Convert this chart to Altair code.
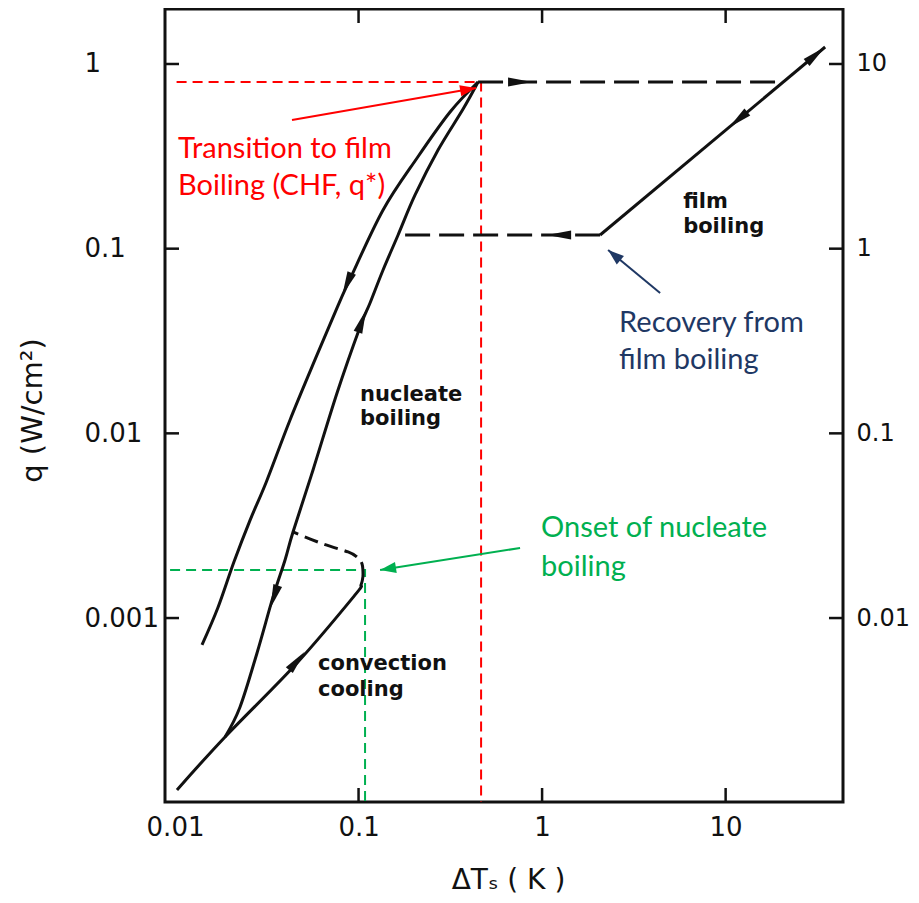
import altair as alt
import pandas as pd

# ---------------- axes ----------------
x_domain = [0.00882, 43.6]
q_domain = [1.009e-4, 1.985]
x_label_values = [0.01, 0.1, 1, 10]
x_tick_values = [0.1, 1, 10]
q_tick_values = [1, 0.1, 0.01, 0.001]
q_right_labels = ["10", "1", "0.1", "0.01"]

# ---------------- boiling curve (black) ----------------
outer_x = [0.01403, 0.01712, 0.02096, 0.02565, 0.03143, 0.04233, 0.05939, 0.07634, 0.08989, 0.1360, 0.2084,
           0.3152, 0.4478]
outer_q = [0.0007153, 0.001136, 0.002016, 0.003391, 0.005456, 0.01182, 0.02658, 0.04775, 0.06854, 0.1620,
           0.3098, 0.5496, 0.7989]

inner_x = [0.01873, 0.02261, 0.02798, 0.03421, 0.03977, 0.04395, 0.05649, 0.07634, 0.1019, 0.1155, 0.1360,
           0.1642, 0.2032, 0.2711, 0.3712, 0.4478]
inner_q = [0.0002271, 0.0003301, 0.0006471, 0.001301, 0.002063, 0.002925, 0.006336, 0.01655, 0.03768, 0.05082,
           0.07668, 0.1186, 0.1953, 0.3422, 0.5705, 0.7989]

conv_x = [0.01025, 0.01873, 0.04622, 0.09570, 0.1032, 0.1058]
conv_q = [0.0001173, 0.0002271, 0.0005713, 0.001334, 0.001511, 0.001690]

bump_x = [0.1058, 0.1045, 0.09813, 0.08767, 0.06404, 0.04395]
bump_q = [0.001690, 0.001963, 0.002142, 0.002280, 0.002518, 0.002925]

film_x = [2.071, 34.85]
film_q = [0.1186, 1.236]

chf_jump_x = [0.4478, 20.58]
chf_jump_q = [0.7989, 0.7989]

recovery_x = [2.071, 0.1642]
recovery_q = [0.1186, 0.1186]

arrow_x = [0.7586, 1.238, 31.0, 11.7, 0.08655, 0.1045, 0.03463, 0.04622]
arrow_q = [0.7989, 0.1186, 1.122, 0.4995, 0.0644, 0.04061, 0.001301, 0.0005857]
arrow_angle = [0, 180, 320, 140, 113, 290, 108, 310]

curve_labels = ["film", "boiling", "nucleate", "boiling", "convection", "cooling"]
curve_label_x = [5.868, 5.868, 0.1019, 0.1019, 0.06015, 0.06015]
curve_label_q = [0.1661, 0.1216, 0.01498, 0.01110, 0.0005236, 0.0003787]

# ---------------- annotations ----------------
chf_guide_x = [0.0102, 0.4652, 0.4652]
chf_guide_q = [0.7989, 0.7989, 1.009e-4]
onb_guide_x = [0.0094, 0.1085, 0.1085]
onb_guide_q = [0.001821, 0.001821, 1.009e-4]

chf_note_x = [0.0434, 0.4368]
chf_note_q = [0.4973, 0.7415]
onb_note_x = [0.7586, 0.1310]
onb_note_q = [0.002395, 0.001821]
rec_note_x = [4.396, 2.289]
rec_note_q = [0.05756, 0.0984]
note_key = ["chf", "onb", "rec"]
note_angle = [350, 171, 220]

chf_text = ["Transition to film", "Boiling (CHF, q*)"]
chf_text_x = [0.01038, 0.01038]
chf_text_q = [0.3098, 0.1953]
onb_text = ["Onset of nucleate", "boiling"]
onb_text_x = [0.9876, 0.9876]
onb_text_q = [0.002749, 0.001690]
rec_text = ["Recovery from", "film boiling"]
rec_text_x = [2.628, 2.628]
rec_text_q = [0.03540, 0.02232]

RED = "#FF0000"
GREEN = "#00B050"
NAVY = "#1F3864"
BLACK = "#111111"

W, H = 678, 793
XS = alt.Scale(type="log", domain=x_domain, nice=False)
YS = alt.Scale(type="log", domain=q_domain, nice=False)

HEAD_MID = "M1,0L-1,-0.38L-1,0.38Z"
HEAD_TIP = "M0,0L-2,-0.7L-2,0.7Z"


def xenc(field="x"):
    return alt.X(f"{field}:Q", scale=XS, axis=None)


def yenc(field="q"):
    return alt.Y(f"{field}:Q", scale=YS, axis=None)


def line(xs, qs, color, width, dash=None, interp="linear"):
    df = pd.DataFrame({"x": xs, "q": qs, "i": list(range(len(xs)))})
    kw = dict(color=color, strokeWidth=width, interpolate=interp, clip=True)
    if dash:
        kw["strokeDash"] = dash
    return alt.Chart(df).mark_line(**kw).encode(x=xenc(), y=yenc(), order="i:Q")


def heads(df, color, shape, size):
    return alt.Chart(df).mark_point(shape=shape, filled=True, size=size, color=color,
                                    opacity=1, strokeWidth=0).encode(
        x=xenc(), y=yenc(), angle=alt.Angle("a:Q", scale=None))


def texts(labels, xs, qs, color, font, size, weight="normal"):
    df = pd.DataFrame({"t": labels, "x": xs, "q": qs})
    return alt.Chart(df).mark_text(align="left", baseline="alphabetic", font=font, fontSize=size,
                                   fontWeight=weight, color=color).encode(
        x=xenc(), y=yenc(), text="t:N")


# ---- axes and inward tick marks ----
left_ticks = alt.Chart(pd.DataFrame({"q": q_tick_values})).mark_rule(color=BLACK, strokeWidth=2.5).encode(
    x=alt.value(0), x2=alt.value(14),
    y=alt.Y("q:Q", scale=YS, axis=alt.Axis(
        orient="left", values=q_tick_values, format="~g", ticks=False, domain=False, grid=False,
        labelAlign="left", labelBaseline="middle", labelPadding=81, labelFontSize=26,
        labelFont="DejaVu Sans", labelColor=BLACK,
        title="q (W/cm²)", titleFont="DejaVu Sans", titleFontSize=29, titleFontWeight="normal",
        titleColor=BLACK, titleAngle=270, titleX=-133, titleY=401, titleAlign="center",
        titleBaseline="middle")))

right_expr = " : ".join(
    f"abs(datum.value - {v}) < {v / 100} ? '{lab}'" for v, lab in zip(q_tick_values, q_right_labels)) + " : ''"

right_ticks = alt.Chart(pd.DataFrame({"q": q_tick_values})).mark_rule(color=BLACK, strokeWidth=2.5).encode(
    x=alt.value(W - 14), x2=alt.value(W),
    y=alt.Y("q:Q", scale=YS, axis=alt.Axis(
        orient="right", values=q_tick_values, labelExpr=right_expr, ticks=False, domain=False,
        grid=False, labelAlign="left", labelBaseline="middle", labelPadding=13, labelFontSize=24,
        labelFont="DejaVu Sans", labelColor=BLACK, title=None)))

bottom_ticks = alt.Chart(pd.DataFrame({"x": x_tick_values})).mark_rule(color=BLACK, strokeWidth=2.5).encode(
    y=alt.value(H - 14), y2=alt.value(H),
    x=alt.X("x:Q", scale=XS, axis=alt.Axis(
        orient="bottom", values=x_label_values, format="~g", ticks=False, domain=False, grid=False,
        labelAlign="center", labelBaseline="middle", labelPadding=25, labelFontSize=26,
        labelFont="DejaVu Sans", labelColor=BLACK, labelFlush=False,
        title="ΔTₛ ( K )", titleFont="DejaVu Sans", titleFontSize=28, titleFontWeight="normal",
        titleColor=BLACK, titleX=343, titleY=86, titleAlign="center", titleBaseline="alphabetic")))

top_ticks = alt.Chart(pd.DataFrame({"x": x_tick_values})).mark_rule(color=BLACK, strokeWidth=2.5).encode(
    y=alt.value(0), y2=alt.value(14), x=xenc())

note_heads = pd.DataFrame({
    "x": [chf_note_x[-1], onb_note_x[-1], rec_note_x[-1]],
    "q": [chf_note_q[-1], onb_note_q[-1], rec_note_q[-1]],
    "a": note_angle, "k": note_key})

layers = [
    bottom_ticks, left_ticks, right_ticks, top_ticks,
    # coloured guides
    line(chf_guide_x, chf_guide_q, RED, 2, dash=[10, 6]),
    line(onb_guide_x, onb_guide_q, GREEN, 2, dash=[10, 6]),
    # black curves
    line(outer_x, outer_q, BLACK, 3, interp="cardinal"),
    line(inner_x, inner_q, BLACK, 3, interp="cardinal"),
    line(conv_x, conv_q, BLACK, 3, interp="cardinal"),
    line(bump_x, bump_q, BLACK, 3, dash=[14, 7], interp="cardinal"),
    line(film_x, film_q, BLACK, 3),
    line(chf_jump_x, chf_jump_q, BLACK, 3, dash=[25, 9]),
    line(recovery_x, recovery_q, BLACK, 3, dash=[25, 9]),
    heads(pd.DataFrame({"x": arrow_x, "q": arrow_q, "a": arrow_angle}), BLACK, HEAD_MID, 576),
    texts(curve_labels, curve_label_x, curve_label_q, BLACK, "DejaVu Sans", 21, "bold"),
    # callouts
    line(chf_note_x, chf_note_q, RED, 2),
    line(onb_note_x, onb_note_q, GREEN, 2),
    line(rec_note_x, rec_note_q, NAVY, 2),
    heads(note_heads, RED, HEAD_TIP, 256).encode(
        color=alt.Color("k:N", scale=alt.Scale(domain=note_key, range=[RED, GREEN, NAVY]), legend=None)),
    texts(chf_text, chf_text_x, chf_text_q, RED, "Lato", 29),
    texts(onb_text, onb_text_x, onb_text_q, GREEN, "Lato", 29),
    texts(rec_text, rec_text_x, rec_text_q, NAVY, "Lato", 29),
]

chart = alt.layer(*layers).properties(
    width=W, height=H,
    padding={"left": 157, "top": 1, "right": 68, "bottom": 93},
    autosize=alt.AutoSizeParams(type="none"),
    background="white",
).resolve_axis(x="independent", y="independent").configure_view(stroke=BLACK, strokeWidth=3)

chart.save("out.html", embed_options={"renderer": "svg", "actions": False})
